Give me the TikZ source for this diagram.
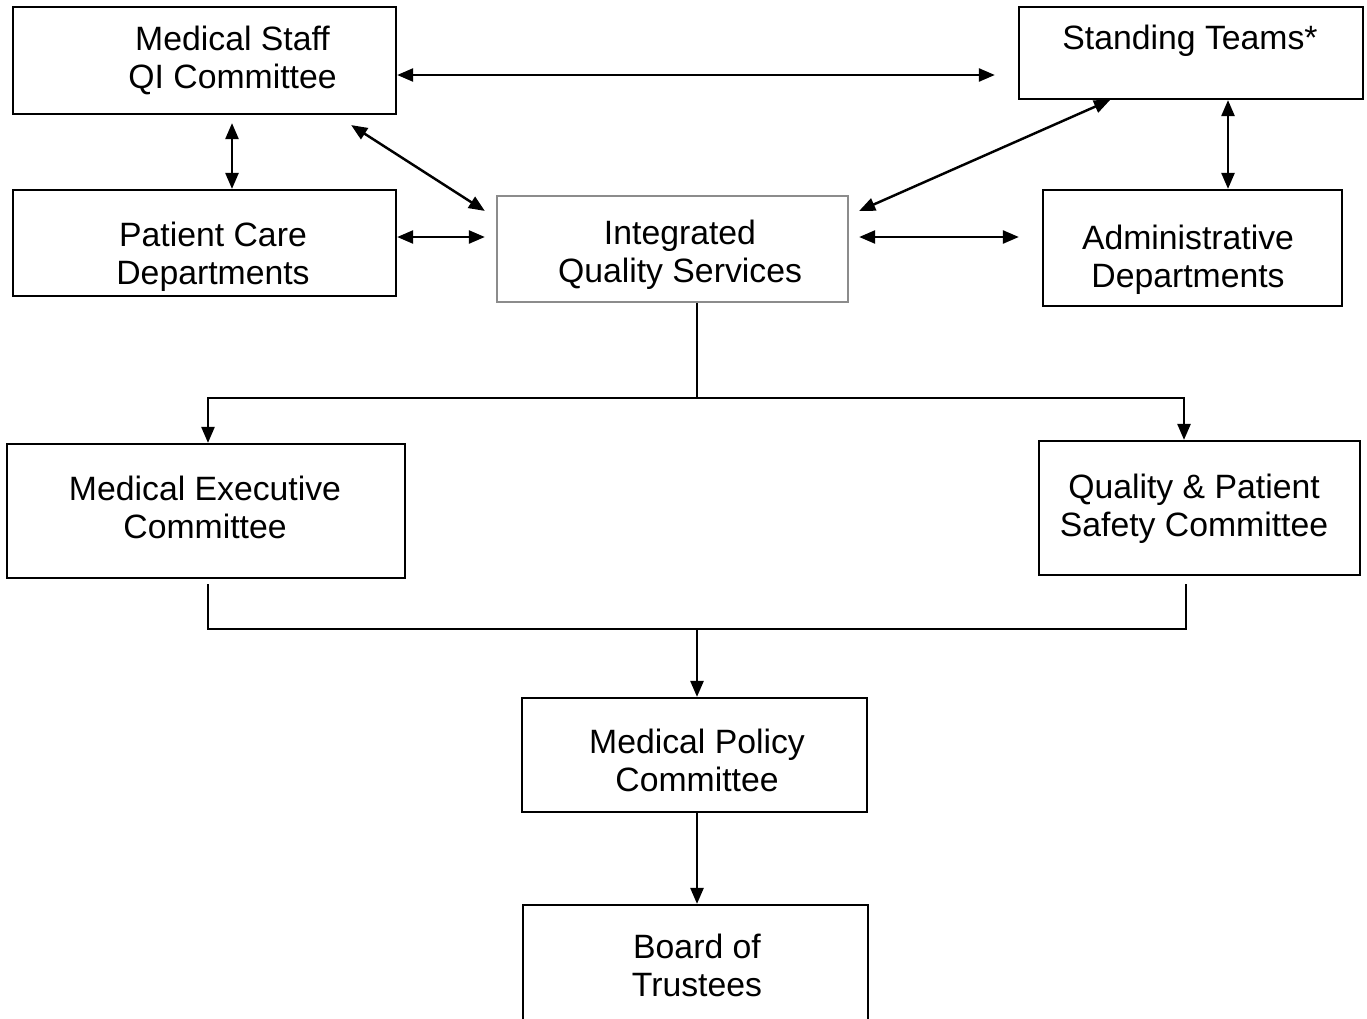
\documentclass[tikz,border=0pt]{standalone}
\usepackage{fontspec}
\setmainfont{Liberation Sans}
\usetikzlibrary{positioning,calc,arrows.meta}

\begin{document}
\begin{tikzpicture}[x=0.01cm, y=-0.01cm]
        \tikzstyle{box}=[draw, line width=0.6pt, inner sep=0pt]
        \tikzstyle{txt}=[align=center, inner sep=0pt, font=\fontsize{9.6}{10.8}\selectfont]
        \tikzstyle{link}=[line width=0.7pt, -{Triangle[length=0.16cm, width=0.13cm]}]
        \tikzstyle{both}=[link, {Triangle[length=0.16cm, width=0.13cm]}-{Triangle[length=0.16cm, width=0.13cm]}]

        \useasboundingbox[fill=white] (0,0) rectangle (1367,1018);

        \node[box, minimum width=3.83cm, minimum height=1.07cm] (msqi)  at (204.5,60.5) {};
        \node[box, minimum width=3.44cm, minimum height=0.92cm] (stand) at (1191,53) {};
        \node[box, minimum width=3.83cm, minimum height=1.06cm] (pcd)   at (204.5,243) {};
        \node[box, draw=black!45, minimum width=3.51cm, minimum height=1.06cm] (iqs) at (672.5,249) {};
        \node[box, minimum width=2.99cm, minimum height=1.16cm] (admin) at (1192.5,248) {};
        \node[box, minimum width=3.98cm, minimum height=1.34cm] (mec) at (206,511) {};
        \node[box, minimum width=3.21cm, minimum height=1.34cm] (qps) at (1199.5,508) {};
        \node[box, minimum width=3.45cm, minimum height=1.14cm] (mpc) at (694.5,755) {};
        \node[box, minimum width=3.45cm, minimum height=1.35cm] (bot) at (695.5,972.5) {};

        \node[txt] (msqi-t)  at (232.5,60.5) {Medical Staff\\QI Committee};
        \node[txt] (stand-t) at (1190,41) {Standing Teams*};
        \node[txt] (pcd-t)   at (213,257) {Patient Care\\Departments};
        \node[txt] (iqs-t)   at (680,255) {Integrated\\Quality Services};
        \node[txt] (admin-t) at (1188,260) {Administrative\\Departments};
        \node[txt] (mec-t)   at (205,507) {Medical Executive\\Committee};
        \node[txt] (qps-t)   at (1194,509) {Quality \& Patient\\Safety Committee};
        \node[txt] (mpc-t)   at (697,760) {Medical Policy\\Committee};
        \node[txt] (bot-t)   at (697,965.5) {Board of\\Trustees};

        \coordinate (split) at (697,398);
        \coordinate (merge) at (697,629);

        % upper links
        \draw[both] ($(msqi.east)+(0,14.5)$) -- ($(stand.west)+(-23,22)$);
        \draw[both] ($(msqi.south)+(27.5,8)$) -- ($(pcd.north)+(27.5,0)$);
        \draw[both] ($(msqi.south east)+(-46,10)$) -- ($(iqs.north west)+(-11,16)$);
        \draw[both] ($(pcd.east)+(0,-6)$) -- ($(iqs.west)+(-11,-12)$);
        \draw[both] ($(stand.south)+(-81,0)$) -- ($(iqs.north east)+(10,16)$);
        \draw[both] ($(stand.south)+(37,0)$) -- ($(admin.north)+(35.5,0)$);
        \draw[both] ($(iqs.east)+(10,-12)$) -- ($(admin.west)+(-23,-11)$);

        % reporting lines
        \draw[line width=0.7pt] ($(iqs.south)+(24.5,0)$) -- (split);
        \draw[link] (split) -| ($(mec.north)+(2,0)$);
        \draw[link] (split) -| ($(qps.north)+(-15.5,0)$);
        \draw[line width=0.7pt] ($(mec.south)+(2,5)$) |- (merge);
        \draw[line width=0.7pt] ($(qps.south)+(-13.5,8)$) |- (merge);
        \draw[link] (merge) -- (merge |- mpc.north);
        \draw[link] ($(mpc.south)+(2.5,0)$) -- ($(bot.north)+(1.5,0)$);
    \end{tikzpicture}
\end{document}
